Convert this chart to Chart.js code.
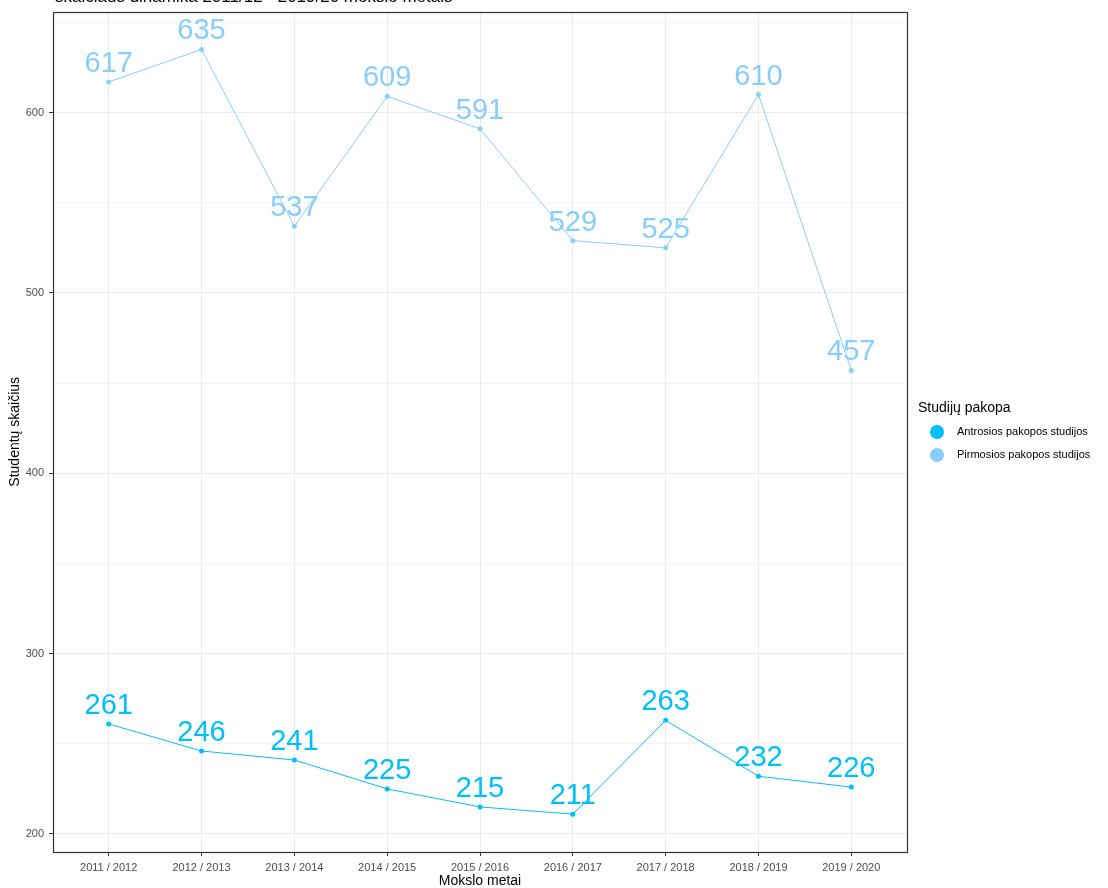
<!DOCTYPE html>
<html>
<head>
<meta charset="utf-8">
<script src="https://cdn.jsdelivr.net/npm/chart.js@4"></script>
<style>
  body { margin: 0; background: #fff; }
  #wrap { width: 1108px; height: 888px; }
</style>
</head>
<body>
<div id="wrap"><canvas id="myChart" width="1108" height="888"></canvas></div>
<script>
const years = ["2011 / 2012", "2012 / 2013", "2013 / 2014", "2014 / 2015", "2015 / 2016",
               "2016 / 2017", "2017 / 2018", "2018 / 2019", "2019 / 2020"];
const antrosios = [261, 246, 241, 225, 215, 211, 263, 232, 226];
const pirmosios = [617, 635, 537, 609, 591, 529, 525, 610, 457];
const seriesNames = ["Antrosios pakopos studijos", "Pirmosios pakopos studijos"];
const colors = ["#00BFFF", "#87CEFA"];

const toPoints = arr => arr.map((v, i) => ({x: i, y: v}));

// value labels above points, panel box, clipped title, legend
const extras = {
  id: 'extras',
  afterDatasetsDraw(chart) {
    const ctx = chart.ctx;
    ctx.save();
    ctx.font = '29px "Liberation Sans", Arial, sans-serif';
    ctx.textAlign = 'center';
    ctx.textBaseline = 'alphabetic';
    chart.data.datasets.forEach((ds, d) => {
      chart.getDatasetMeta(d).data.forEach((pt, i) => {
        ctx.fillStyle = ds.borderColor;
        ctx.fillText(ds.data[i].y, pt.x, pt.y - 10);
      });
    });
    ctx.restore();
  },
  afterDraw(chart) {
    const ctx = chart.ctx;
    const a = chart.chartArea;
    ctx.save();
    ctx.strokeStyle = '#333333';
    ctx.lineWidth = 1.2;
    ctx.strokeRect(Math.round(a.left) + 0.5, Math.round(a.top) + 0.5,
                   Math.round(a.right - a.left), Math.round(a.bottom - a.top));

    ctx.fillStyle = '#000';
    ctx.font = '17px "Liberation Sans", Arial, sans-serif';
    ctx.textAlign = 'left';
    ctx.textBaseline = 'alphabetic';
    ctx.fillText('skaičiaus dinamika 2011/12 - 2019/20 mokslo metais', 55, 2);

    // legend
    ctx.font = '14px "Liberation Sans", Arial, sans-serif';
    ctx.fillText('Studijų pakopa', 918, 412);
    ctx.font = '11px "Liberation Sans", Arial, sans-serif';
    ctx.textBaseline = 'middle';
    seriesNames.forEach((name, i) => {
      const y = 432 + i * 23;
      ctx.fillStyle = colors[i];
      ctx.beginPath();
      ctx.arc(937, y, 7, 0, Math.PI * 2);
      ctx.fill();
      ctx.fillStyle = '#000';
      ctx.fillText(name, 957, y);
    });
    ctx.restore();
  }
};

new Chart(document.getElementById('myChart'), {
  type: 'line',
  data: {
    datasets: [
      { label: seriesNames[0], data: toPoints(antrosios), borderColor: colors[0], backgroundColor: colors[0],
        borderWidth: 1, pointRadius: 2.5, pointBorderWidth: 0 },
      { label: seriesNames[1], data: toPoints(pirmosios), borderColor: colors[1], backgroundColor: colors[1],
        borderWidth: 1, pointRadius: 2.5, pointBorderWidth: 0 }
    ]
  },
  options: {
    responsive: false,
    animation: false,
    layout: { padding: { top: 11, right: 201, left: 0, bottom: 0 } },
    plugins: { legend: { display: false }, tooltip: { enabled: false } },
    scales: {
      x: {
        type: 'linear',
        min: -0.6, max: 8.6,
        afterFit: s => { s.height = 36; },
        border: { display: false },
        grid: { color: '#ebebeb', lineWidth: 1, tickColor: '#333333', tickLength: 4 },
        ticks: {
          stepSize: 1, includeBounds: false, autoSkip: false, maxRotation: 0, padding: 5,
          color: '#4d4d4d', font: { size: 11, family: '"Liberation Sans", Arial, sans-serif' },
          callback: v => years[v]
        },
        title: { display: true, text: 'Mokslo metai', color: '#000', padding: { top: 0, bottom: 0 },
                 font: { size: 14, lineHeight: 1, family: '"Liberation Sans", Arial, sans-serif' } }
      },
      y: {
        min: 190, max: 656,
        afterFit: s => { s.width = 53; },
        border: { display: false },
        grid: {
          color: c => c.tick && c.tick.value % 100 === 0 ? '#ebebeb' : '#f4f4f4',
          tickColor: c => c.tick && c.tick.value % 100 === 0 ? '#333333' : 'rgba(0,0,0,0)',
          lineWidth: 1, tickLength: 4
        },
        ticks: {
          stepSize: 50, includeBounds: false, padding: 5,
          color: '#4d4d4d', font: { size: 11, family: '"Liberation Sans", Arial, sans-serif' },
          callback: v => v % 100 === 0 ? v : ''
        },
        title: { display: true, text: 'Studentų skaičius', color: '#000', padding: { top: 8, bottom: 0 },
                 font: { size: 14, lineHeight: 1, family: '"Liberation Sans", Arial, sans-serif' } }
      }
    }
  },
  plugins: [extras]
});
</script>
</body>
</html>
